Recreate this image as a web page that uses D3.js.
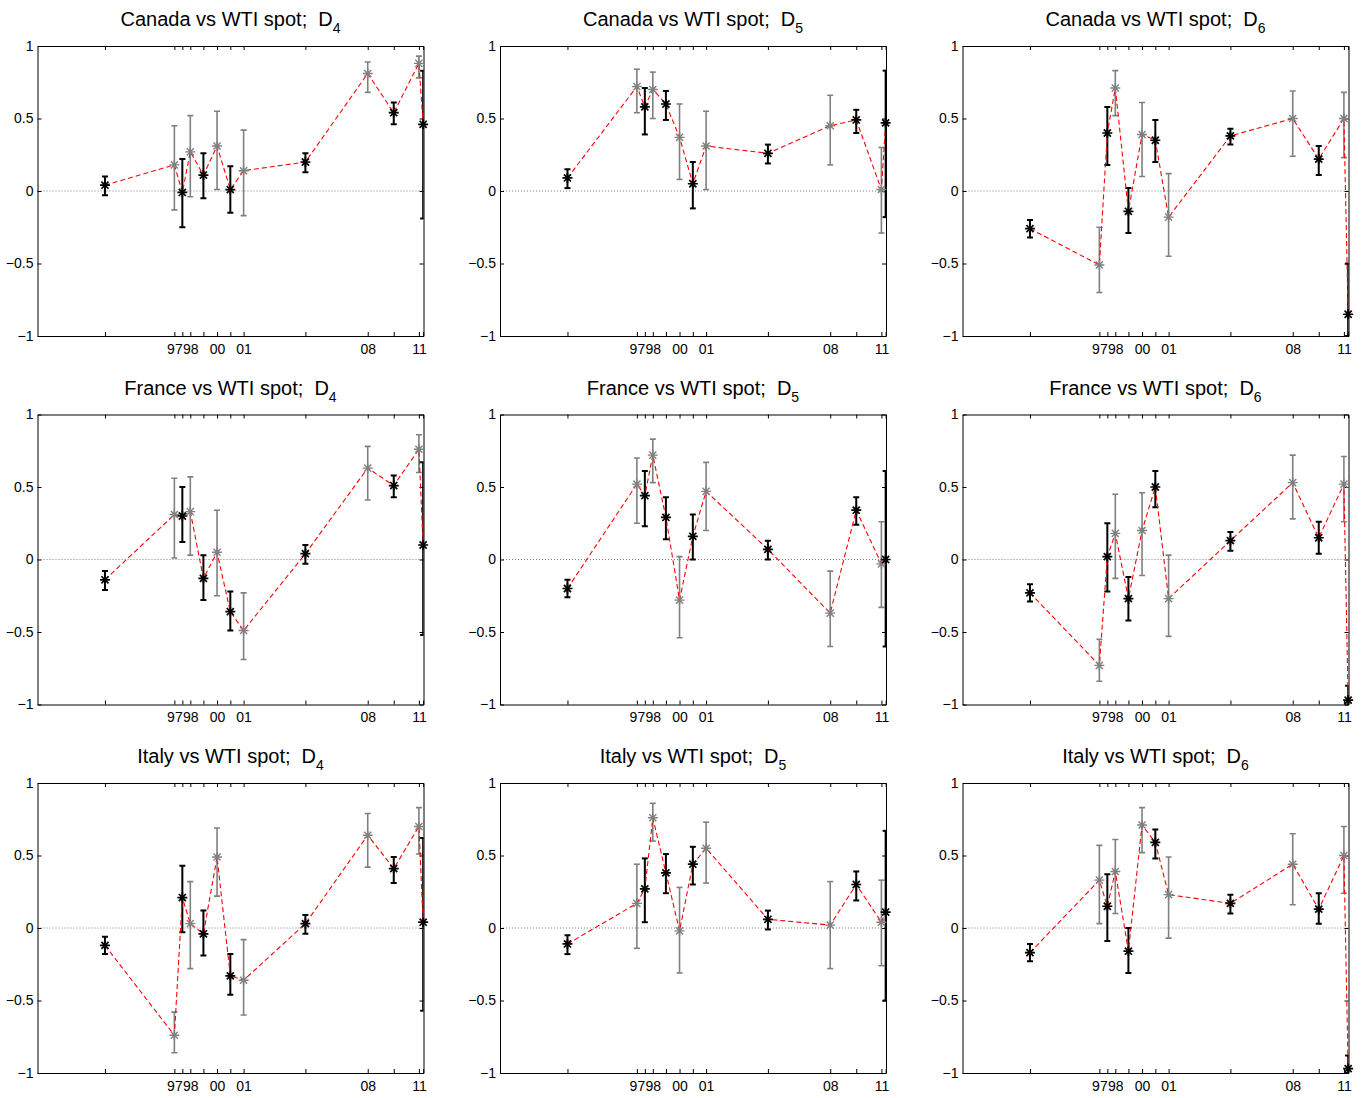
<!DOCTYPE html>
<html><head><meta charset="utf-8">
<script src="https://cdn.jsdelivr.net/npm/d3@7"></script>
<style>
body{margin:0;background:#fff}
text{font-family:"Liberation Sans",Arial,Helvetica,sans-serif}
</style>
</head><body>
<svg id="chart" width="1367" height="1098"></svg>
<script>
// ---------------- DATA ----------------
const pointYears = [1993.91, 1997.83, 1998.28, 1998.73, 1999.47, 2000.24, 2000.99, 2001.74, 2005.23, 2008.75, 2010.22, 2011.64, 2011.88];
const xTickLabels = ["", "97", "", "98", "", "00", "", "01", "", "08", "", "11", ""];
const yTickValues = [-1, -0.5, 0, 0.5, 1];
const yTickLabels = ["\u22121", "\u22120.5", "0", "0.5", "1"];
const countries = ["Canada", "France", "Italy"];
const horizons = ["4", "5", "6"];

const canadaD4    = [0.04, 0.18, -0.01, 0.27, 0.11, 0.31, 0.01, 0.14, 0.20, 0.81, 0.54, 0.88, 0.46];
const canadaD4Lo  = [-0.03, -0.13, -0.25, -0.04, -0.05, 0.01, -0.15, -0.17, 0.13, 0.68, 0.46, 0.78, -0.19];
const canadaD4Hi  = [0.10, 0.45, 0.22, 0.52, 0.26, 0.55, 0.17, 0.42, 0.26, 0.89, 0.61, 0.93, 0.83];

const canadaD5    = [0.09, 0.72, 0.58, 0.70, 0.60, 0.37, 0.05, 0.31, 0.26, 0.45, 0.49, 0.01, 0.47];
const canadaD5Lo  = [0.02, 0.54, 0.39, 0.50, 0.49, 0.08, -0.12, 0.01, 0.19, 0.18, 0.40, -0.29, -0.18];
const canadaD5Hi  = [0.15, 0.84, 0.71, 0.82, 0.69, 0.60, 0.20, 0.55, 0.32, 0.66, 0.56, 0.30, 0.83];

const canadaD6    = [-0.26, -0.51, 0.40, 0.71, -0.14, 0.39, 0.35, -0.18, 0.38, 0.50, 0.22, 0.50, -0.85];
const canadaD6Lo  = [-0.32, -0.70, 0.18, 0.52, -0.29, 0.10, 0.20, -0.45, 0.32, 0.24, 0.11, 0.23, -1.00];
const canadaD6Hi  = [-0.20, -0.25, 0.58, 0.83, 0.02, 0.61, 0.49, 0.12, 0.43, 0.69, 0.31, 0.68, -0.50];

const franceD4    = [-0.14, 0.31, 0.30, 0.33, -0.13, 0.05, -0.36, -0.49, 0.04, 0.63, 0.51, 0.76, 0.10];
const franceD4Lo  = [-0.21, 0.01, 0.12, 0.03, -0.28, -0.25, -0.49, -0.69, -0.03, 0.41, 0.43, 0.60, -0.52];
const franceD4Hi  = [-0.08, 0.56, 0.50, 0.57, 0.03, 0.34, -0.22, -0.23, 0.10, 0.78, 0.58, 0.86, 0.67];

const franceD5    = [-0.20, 0.52, 0.44, 0.72, 0.29, -0.28, 0.16, 0.47, 0.07, -0.37, 0.34, -0.03, 0.00];
const franceD5Lo  = [-0.26, 0.25, 0.23, 0.53, 0.14, -0.54, 0.00, 0.20, 0.00, -0.60, 0.24, -0.33, -0.60];
const franceD5Hi  = [-0.14, 0.70, 0.61, 0.83, 0.43, 0.02, 0.31, 0.67, 0.13, -0.08, 0.43, 0.26, 0.61];

const franceD6    = [-0.23, -0.73, 0.02, 0.18, -0.27, 0.20, 0.50, -0.27, 0.13, 0.53, 0.15, 0.52, -0.97];
const franceD6Lo  = [-0.29, -0.84, -0.22, -0.13, -0.42, -0.11, 0.36, -0.53, 0.06, 0.28, 0.04, 0.26, -1.00];
const franceD6Hi  = [-0.17, -0.55, 0.25, 0.45, -0.12, 0.46, 0.61, 0.03, 0.19, 0.72, 0.26, 0.71, -0.87];

const italyD4     = [-0.12, -0.74, 0.21, 0.03, -0.04, 0.49, -0.33, -0.36, 0.03, 0.64, 0.41, 0.70, 0.04];
const italyD4Lo   = [-0.18, -0.86, -0.03, -0.28, -0.19, 0.22, -0.46, -0.60, -0.04, 0.42, 0.31, 0.51, -0.57];
const italyD4Hi   = [-0.06, -0.58, 0.43, 0.32, 0.12, 0.69, -0.18, -0.08, 0.09, 0.79, 0.49, 0.83, 0.62];

const italyD5     = [-0.11, 0.17, 0.27, 0.76, 0.38, -0.02, 0.44, 0.55, 0.06, 0.02, 0.30, 0.04, 0.11];
const italyD5Lo   = [-0.18, -0.14, 0.04, 0.60, 0.24, -0.31, 0.30, 0.31, -0.01, -0.28, 0.19, -0.26, -0.50];
const italyD5Hi   = [-0.05, 0.44, 0.48, 0.86, 0.51, 0.28, 0.56, 0.73, 0.12, 0.32, 0.39, 0.33, 0.67];

const italyD6     = [-0.17, 0.33, 0.15, 0.39, -0.16, 0.71, 0.59, 0.23, 0.17, 0.44, 0.13, 0.50, -0.97];
const italyD6Lo   = [-0.23, 0.03, -0.09, 0.10, -0.31, 0.52, 0.48, -0.07, 0.10, 0.16, 0.03, 0.24, -1.00];
const italyD6Hi   = [-0.11, 0.57, 0.37, 0.61, 0.00, 0.83, 0.68, 0.49, 0.23, 0.65, 0.24, 0.70, -0.88];

const panels = [
  [canadaD4, canadaD4Lo, canadaD4Hi], [canadaD5, canadaD5Lo, canadaD5Hi], [canadaD6, canadaD6Lo, canadaD6Hi],
  [franceD4, franceD4Lo, franceD4Hi], [franceD5, franceD5Lo, franceD5Hi], [franceD6, franceD6Lo, franceD6Hi],
  [italyD4, italyD4Lo, italyD4Hi],    [italyD5, italyD5Lo, italyD5Hi],    [italyD6, italyD6Lo, italyD6Hi]
];

// ---------------- LAYOUT ----------------
const W = 386, H = 290;
const lefts = [37.5, 500, 962.5];
const tops = [46, 414.5, 783];
const BLACK = "#000000", GRAY = "#808080";

const x = d3.scaleLinear().domain([1990.1, 2011.9]).range([0, W]);
const y = d3.scaleLinear().domain([-1, 1]).range([H, 0]);

const svg = d3.select("#chart");
svg.append("defs").append("clipPath").attr("id", "plotclip")
  .append("rect").attr("x", 0).attr("y", 0).attr("width", W).attr("height", H);

function asterisk(r) {
  const d = r * Math.SQRT1_2;
  return `M${-r},0L${r},0M0,${-r}L0,${r}M${-d},${-d}L${d},${d}M${-d},${d}L${d},${-d}`;
}

panels.forEach((p, i) => {
  const [vals, lo, hi] = p;
  const r = Math.floor(i / 3), c = i % 3;
  const g = svg.append("g").attr("transform", `translate(${lefts[c]},${tops[r]})`);

  // zero reference line
  g.append("line")
    .attr("x1", 0).attr("x2", W).attr("y1", y(0)).attr("y2", y(0))
    .attr("stroke", "#808080").attr("stroke-width", 1).attr("stroke-dasharray", "1,2");

  // axes (box with inward ticks)
  const styleAxis = sel => {
    sel.selectAll("path.domain").attr("stroke", "#000").attr("stroke-width", 1);
    sel.selectAll(".tick line").attr("stroke", "#000").attr("stroke-width", 1);
    sel.selectAll(".tick text").attr("fill", "#000").attr("font-size", 14)
      .attr("font-family", '"Liberation Sans",Arial,sans-serif');
  };
  g.append("g").attr("transform", `translate(0,${H})`)
    .call(d3.axisBottom(x).tickValues(pointYears).tickFormat((d, k) => xTickLabels[k])
      .tickSizeInner(-4).tickSizeOuter(0).tickPadding(8))
    .call(styleAxis);
  g.append("g")
    .call(d3.axisTop(x).tickValues(pointYears).tickFormat("")
      .tickSizeInner(-4).tickSizeOuter(0))
    .call(styleAxis);
  g.append("g")
    .call(d3.axisLeft(y).tickValues(yTickValues).tickFormat((d, k) => yTickLabels[k])
      .tickSizeInner(-4).tickSizeOuter(0).tickPadding(4))
    .call(styleAxis);
  g.append("g").attr("transform", `translate(${W},0)`)
    .call(d3.axisRight(y).tickValues(yTickValues).tickFormat("")
      .tickSizeInner(-4).tickSizeOuter(0))
    .call(styleAxis);

  const data = vals.map((v, k) => ({ yr: pointYears[k], v, lo: lo[k], hi: hi[k], k }));
  const plot = g.append("g").attr("clip-path", "url(#plotclip)");

  // error bars
  const eb = plot.selectAll("g.eb").data(data).enter().append("g")
    .attr("stroke", d => d.k % 2 === 0 ? BLACK : GRAY)
    .attr("stroke-width", d => d.k % 2 === 0 ? 2 : 1.6)
    .attr("fill", "none");
  eb.append("line")
    .attr("x1", d => x(d.yr)).attr("x2", d => x(d.yr))
    .attr("y1", d => y(d.lo)).attr("y2", d => y(d.hi));
  eb.append("line")
    .attr("x1", d => x(d.yr) - 3).attr("x2", d => x(d.yr) + 3)
    .attr("y1", d => y(d.lo)).attr("y2", d => y(d.lo));
  eb.append("line")
    .attr("x1", d => x(d.yr) - 3).attr("x2", d => x(d.yr) + 3)
    .attr("y1", d => y(d.hi)).attr("y2", d => y(d.hi));

  // markers
  g.selectAll("path.mk").data(data).enter().append("path")
    .attr("transform", d => `translate(${x(d.yr)},${y(d.v)})`)
    .attr("d", asterisk(5))
    .attr("fill", "none")
    .attr("stroke", d => d.k % 2 === 0 ? BLACK : GRAY)
    .attr("stroke-width", d => d.k % 2 === 0 ? 1.7 : 1.4);

  // red dashed connecting line
  plot.append("path").datum(data)
    .attr("d", d3.line().x(d => x(d.yr)).y(d => y(d.v)))
    .attr("fill", "none").attr("stroke", "#ff0000").attr("stroke-width", 1.1)
    .attr("stroke-dasharray", "5,3");

  // title
  const t = g.append("text")
    .attr("x", W / 2).attr("y", -20)
    .attr("text-anchor", "middle").attr("font-size", 20).attr("fill", "#000")
    .style("white-space", "pre");
  t.append("tspan").text(`${countries[r]} vs WTI spot;  D`);
  t.append("tspan").attr("font-size", 14).attr("dy", 7).text(horizons[c]);
});
</script>
</body></html>
